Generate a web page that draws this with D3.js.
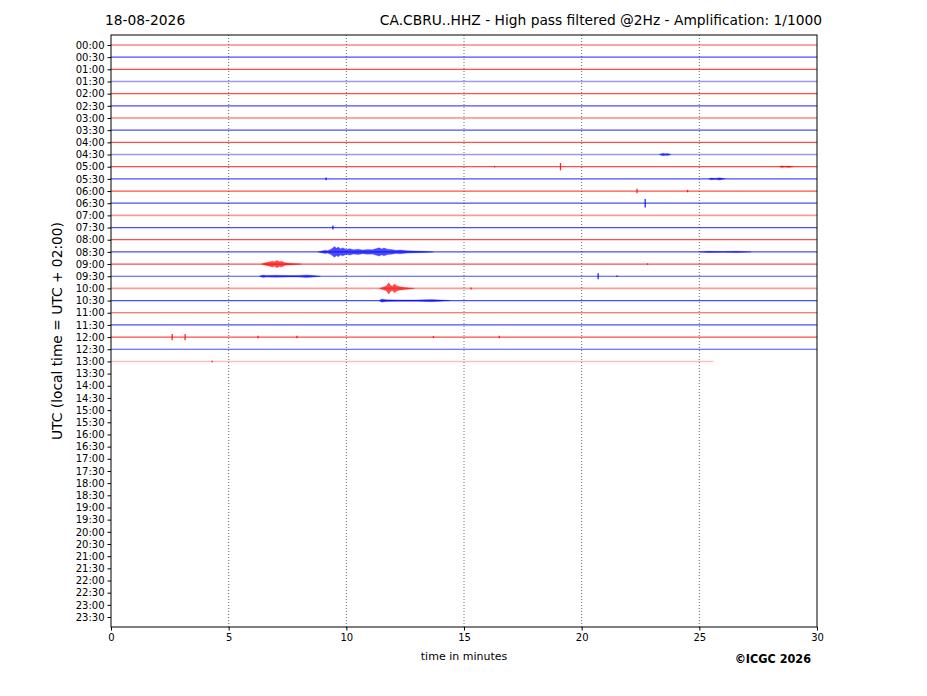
<!DOCTYPE html>
<html>
<head>
<meta charset="utf-8">
<script src="https://d3js.org/d3.v7.min.js"></script>
<style>
  body { margin: 0; background: #fff; }
  text { font-family: "DejaVu Sans", sans-serif; fill: #000; }
  .tick text { font-size: 10px; }
  .domain { display: none; }
</style>
</head>
<body>
<div id="chart"></div>
<script>
// Helicorder: one row per half hour, x = minutes inside the row

const dateLabel = "18-08-2026";
const stationTitle = "CA.CBRU..HHZ - High pass filtered @2Hz - Amplification: 1/1000";

// 48 half-hour rows
const rowLabels = d3.range(48).map(i =>
  String(Math.floor(i / 2)).padStart(2, "0") + ":" + (i % 2 ? "30" : "00"));

// minutes of data present in each recorded row (rows 0..26)
const rowMinutes = [30, 30, 30, 30, 30, 30, 30, 30, 30, 30,
                    30, 30, 30, 30, 30, 30, 30, 30, 30, 30,
                    30, 30, 30, 30, 30, 30, 25.6];

const xTicks = [0, 5, 10, 15, 20, 25, 30];

// bursts: row, then [minute, half amplitude in row units] envelope points
const bursts = [
  { row: 9,  env: [[23.3, 0], [23.45, 0.1], [23.55, 0.06], [23.65, 0.09], [23.8, 0]] },
  { row: 10, env: [[28.4, 0], [28.5, 0.07], [28.65, 0.03], [28.8, 0.06], [29.0, 0]] },
  { row: 11, env: [[25.4, 0], [25.5, 0.07], [25.7, 0.04], [25.85, 0.09], [26.1, 0]] },
  { row: 17, env: [[8.8, 0], [8.95, 0.08], [9.1, 0.14], [9.2, 0.1], [9.35, 0.22], [9.5, 0.44],
                   [9.58, 0.3], [9.65, 0.4], [9.75, 0.26], [9.85, 0.32], [10.0, 0.2],
                   [10.15, 0.26], [10.3, 0.18], [10.5, 0.22], [10.7, 0.15], [10.9, 0.2],
                   [11.1, 0.18], [11.25, 0.26], [11.4, 0.34], [11.5, 0.24], [11.6, 0.32],
                   [11.75, 0.22], [11.9, 0.2], [12.1, 0.14], [12.3, 0.15], [12.6, 0.09],
                   [12.9, 0.08], [13.3, 0.05], [13.7, 0]] },
  { row: 17, env: [[25.0, 0], [25.4, 0.05], [26.0, 0.03], [26.6, 0.06], [27.2, 0]] },
  { row: 18, env: [[6.4, 0], [6.55, 0.1], [6.7, 0.16], [6.85, 0.24], [6.95, 0.18], [7.05, 0.3],
                   [7.15, 0.2], [7.25, 0.24], [7.4, 0.1], [7.6, 0.07], [7.8, 0.05], [8.1, 0]] },
  { row: 19, env: [[6.3, 0], [6.45, 0.1], [6.6, 0.07], [7.0, 0.08], [7.6, 0.06], [8.0, 0.07],
                   [8.3, 0.11], [8.5, 0.08], [8.9, 0]] },
  { row: 20, env: [[11.4, 0], [11.55, 0.1], [11.7, 0.2], [11.8, 0.46], [11.88, 0.25],
                   [11.95, 0.18], [12.05, 0.36], [12.15, 0.2], [12.3, 0.14], [12.5, 0.08],
                   [12.9, 0]] },
  { row: 21, env: [[11.4, 0], [11.5, 0.13], [11.7, 0.07], [12.2, 0.05], [13.0, 0.05],
                   [13.6, 0.09], [14.0, 0.05], [14.4, 0]] }
];

// isolated spikes: row, minute, half amplitude in row units
const spikes = [
  { row: 10, t: 16.3, a: 0.06 }, { row: 10, t: 19.1, a: 0.3 },
  { row: 11, t: 9.14, a: 0.12 },
  { row: 12, t: 22.35, a: 0.18 }, { row: 12, t: 24.5, a: 0.1 },
  { row: 13, t: 22.7, a: 0.35 },
  { row: 15, t: 9.43, a: 0.16 },
  { row: 18, t: 22.8, a: 0.06 },
  { row: 19, t: 20.7, a: 0.25 }, { row: 19, t: 21.5, a: 0.07 },
  { row: 20, t: 15.3, a: 0.08 },
  { row: 24, t: 2.6, a: 0.25 }, { row: 24, t: 3.15, a: 0.25 }, { row: 24, t: 6.25, a: 0.1 },
  { row: 24, t: 7.9, a: 0.1 }, { row: 24, t: 13.7, a: 0.08 }, { row: 24, t: 16.5, a: 0.1 },
  { row: 26, t: 4.3, a: 0.06 }
];

// rows drawn paler in the reference
const paleRows = [3, 9, 14, 20, 26];

const width = 927, height = 696;
const svg = d3.select("#chart").append("svg")
  .attr("width", width).attr("height", height);

const x = d3.scaleLinear().domain([0, 30]).range([111, 817]);
const y = d3.scaleLinear().domain([-0.82, 47.82]).range([35, 627]);
const rowH = y(1) - y(0);

const colour = i => i % 2 ? "#0000ff" : "#ff0000";

// vertical dotted grid
svg.append("g").selectAll("line")
  .data(xTicks.slice(1, -1))
  .enter().append("line")
  .attr("x1", d => x(d)).attr("x2", d => x(d))
  .attr("y1", y.range()[0]).attr("y2", y.range()[1])
  .attr("stroke", "#444").attr("stroke-width", 0.8)
  .attr("stroke-dasharray", "1,2");

// baseline traces
svg.append("g").selectAll("line")
  .data(rowMinutes)
  .enter().append("line")
  .attr("x1", x(0)).attr("x2", (d, i) => x(d))
  .attr("y1", (d, i) => y(i)).attr("y2", (d, i) => y(i))
  .attr("stroke", (d, i) => colour(i))
  .attr("stroke-width", (d, i) => paleRows.includes(i) ? 1.6 : 1.2)
  .attr("stroke-opacity", (d, i) => i === 26 ? 0.25 : paleRows.includes(i) ? 0.4 : 0.7);

// burst envelopes
const area = d3.area()
  .x(d => x(d[0]))
  .curve(d3.curveLinear);

svg.append("g").selectAll("path")
  .data(bursts)
  .enter().append("path")
  .attr("d", b => area
    .y0(d => y(b.row) - d[1] * rowH)
    .y1(d => y(b.row) + d[1] * rowH)(b.env))
  .attr("fill", b => colour(b.row))
  .attr("fill-opacity", 0.7)
  .attr("stroke", b => colour(b.row))
  .attr("stroke-width", 0.5)
  .attr("stroke-opacity", 0.5);

// spikes
svg.append("g").selectAll("line")
  .data(spikes)
  .enter().append("line")
  .attr("x1", d => x(d.t)).attr("x2", d => x(d.t))
  .attr("y1", d => y(d.row) - d.a * rowH)
  .attr("y2", d => y(d.row) + d.a * rowH)
  .attr("stroke", d => colour(d.row))
  .attr("stroke-width", 1.3)
  .attr("stroke-opacity", 0.85);

// frame
svg.append("rect")
  .attr("x", x(0)).attr("y", y.range()[0])
  .attr("width", x(30) - x(0)).attr("height", y.range()[1] - y.range()[0])
  .attr("fill", "none").attr("stroke", "#000").attr("stroke-width", 1);

// axes
svg.append("g")
  .attr("transform", `translate(0,${y.range()[1]})`)
  .call(d3.axisBottom(x).tickValues(xTicks).tickSize(3.5).tickPadding(3))
  .call(g => g.selectAll(".tick line").attr("stroke", "#000"));

svg.append("g")
  .attr("transform", `translate(${x(0)},0)`)
  .call(d3.axisLeft(y).tickValues(d3.range(48))
    .tickFormat(i => rowLabels[i]).tickSize(3.5).tickPadding(3))
  .call(g => g.selectAll(".tick line").attr("stroke", "#000"));

// titles and labels
svg.append("text")
  .attr("x", 105).attr("y", 25)
  .style("font-size", "13.8px")
  .text(dateLabel);

svg.append("text")
  .attr("x", 822).attr("y", 25)
  .attr("text-anchor", "end")
  .style("font-size", "13.8px")
  .text(stationTitle);

svg.append("text")
  .attr("transform", `translate(62,${(y.range()[0] + y.range()[1]) / 2}) rotate(-90)`)
  .attr("text-anchor", "middle")
  .style("font-size", "13.8px")
  .text("UTC (local time = UTC + 02:00)");

svg.append("text")
  .attr("x", (x(0) + x(30)) / 2).attr("y", 660)
  .attr("text-anchor", "middle")
  .style("font-size", "11px")
  .text("time in minutes");

svg.append("text")
  .attr("x", 811).attr("y", 663)
  .attr("text-anchor", "end")
  .style("font-size", "12.5px")
  .style("font-weight", "bold")
  .style("font-family", "'DejaVu Sans Condensed', 'DejaVu Sans', sans-serif")
  .text("©ICGC 2026");
</script>
</body>
</html>
